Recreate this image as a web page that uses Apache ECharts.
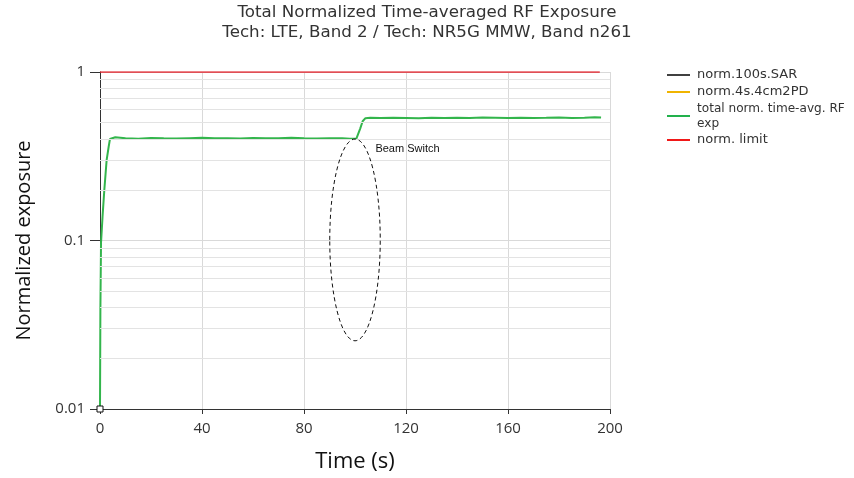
<!DOCTYPE html>
<html><head><meta charset="utf-8">
<script src="https://cdn.jsdelivr.net/npm/echarts@6/dist/echarts.min.js"></script>
<style>html,body{margin:0;padding:0;background:#fff}#c{width:854px;height:478px}</style>
</head><body><div id="c"></div><script>
// ---- data ----
const titleLines = ['Total Normalized Time-averaged RF Exposure', 'Tech: LTE, Band 2 / Tech: NR5G MMW, Band n261'];
const xAxisTitle = 'Time (s)';
const yAxisTitle = 'Normalized exposure';
const timeTicks = [0, 40, 80, 120, 160, 200];
const yTicks = [0.01, 0.1, 1];
const minorGridValues = [0.02, 0.03, 0.04, 0.05, 0.06, 0.07, 0.08, 0.09, 0.2, 0.3, 0.4, 0.5, 0.6, 0.7, 0.8, 0.9];
const seriesNames = ['norm.100s.SAR', 'norm.4s.4cm2PD', 'total norm. time-avg. RF exp', 'norm. limit'];

const sarTime = [0];
const sarValue = [0.01];
const pdTime = [];      // not visible on the log scale
const pdValue = [];
const totalTime = [0, 0.15, 0.4, 1.0, 1.7, 2.6, 3.4, 3.9, 4.5, 6, 10, 15, 20, 25, 30, 35, 40, 45, 50, 55, 60, 65, 70, 75, 80, 85, 90, 95, 98, 100.5, 102, 103, 104.1, 106, 110, 115, 120, 125, 130, 135, 140, 145, 150, 155, 160, 165, 170, 175, 180, 185, 190, 194, 196.5];
const totalValue = [0.0101, 0.039, 0.097, 0.139, 0.20, 0.30, 0.36, 0.40, 0.405, 0.41, 0.405, 0.402, 0.406, 0.404, 0.403, 0.405, 0.407, 0.404, 0.405, 0.403, 0.406, 0.404, 0.405, 0.407, 0.404, 0.403, 0.405, 0.404, 0.402, 0.401, 0.46, 0.51, 0.532, 0.535, 0.533, 0.536, 0.534, 0.532, 0.535, 0.533, 0.536, 0.534, 0.537, 0.535, 0.533, 0.536, 0.534, 0.535, 0.537, 0.534, 0.536, 0.538, 0.537];
const limitTime = [0, 196];
const limitValue = [1, 1];

// annotation (data units)
const annotationText = 'Beam Switch';
const annotationTextT = 108;
const annotationTextV = 0.349;
const ellipseT = 100;
const ellipseHalfT = 9.9;
const ellipseTopV = 0.4;
const ellipseCenterV = 0.1;
const ellipseBottomV = 0.0254;

// ---- chart ----
const zip = (a, b) => a.map((v, i) => [v, b[i]]);
const chart = echarts.init(document.getElementById('c'), null, {renderer: 'canvas'});
const SANS = 'Open Sans';
const VERD = 'DejaVu Sans';

chart.setOption({
  animation: false,
  backgroundColor: '#fff',
  title: {
    text: titleLines.join('\n'),
    left: 'center', top: 3, padding: 0,
    textStyle: {fontFamily: VERD, fontSize: 16.7, fontWeight: 'normal', color: '#333', lineHeight: 20}
  },
  legend: {
    orient: 'vertical', left: 662, top: 62, itemWidth: 23, itemHeight: 2, itemGap: 1, icon: 'rect',
    data: [
      {name: seriesNames[0], itemStyle: {color: '#404040', borderWidth: 0}},
      {name: seriesNames[1]},
      {name: seriesNames[2]},
      {name: seriesNames[3]}
    ],
    formatter: n => n === seriesNames[2] ? '{s|total norm. time-avg. RF}\n{s|exp}' : n,
    textStyle: {fontFamily: VERD, fontSize: 13, color: '#333', lineHeight: 16, padding: [0, 0, 0, 2],
      rich: {s: {fontFamily: VERD, fontSize: 12.1, color: '#333', lineHeight: 15}}}
  },
  grid: {left: 100, right: 244, top: 72, bottom: 68, containLabel: false},
  xAxis: {
    type: 'value', min: timeTicks[0], max: timeTicks[timeTicks.length - 1], interval: 40,
    name: xAxisTitle, nameLocation: 'middle', nameGap: 42,
    nameTextStyle: {fontFamily: SANS, fontSize: 22, color: '#111'},
    axisLine: {show: true, onZero: false, lineStyle: {color: '#333', width: 1}},
    axisTick: {show: true, length: 5, lineStyle: {color: '#333'}},
    axisLabel: {fontFamily: SANS, fontSize: 15, color: '#333', margin: 12},
    splitLine: {show: true, lineStyle: {color: '#d9d9d9', width: 1}}
  },
  yAxis: {
    type: 'log', logBase: 10, min: yTicks[0], max: yTicks[yTicks.length - 1],
    name: yAxisTitle, nameLocation: 'middle', nameGap: 66,
    nameTextStyle: {fontFamily: SANS, fontSize: 20, color: '#111'},
    axisLine: {show: true, onZero: false, lineStyle: {color: '#333', width: 1}},
    axisTick: {show: true, length: 10, lineStyle: {color: '#333'}},
    axisLabel: {fontFamily: SANS, fontSize: 15, color: '#333', margin: 15,
      formatter: v => String(+v.toPrecision(3))},
    splitLine: {show: true, lineStyle: {color: '#d9d9d9', width: 1}}
  },
  series: [
    {
      name: 'minor-grid', type: 'line', data: [], silent: true, z: 0,
      markLine: {silent: true, symbol: 'none', animation: false, label: {show: false},
        lineStyle: {color: '#e3e3e3', width: 1, type: 'solid'},
        data: minorGridValues.map(v => ({yAxis: v}))}
    },
    {
      name: seriesNames[3], type: 'line', data: zip(limitTime, limitValue), showSymbol: false,
      lineStyle: {color: '#e0202a', width: 1.3}, itemStyle: {color: '#f01818'}, z: 3
    },
    {
      name: seriesNames[1], type: 'line', data: zip(pdTime, pdValue), showSymbol: false,
      lineStyle: {color: '#f0b400', width: 2}, itemStyle: {color: '#f0b400'}
    },
    {
      name: seriesNames[2], type: 'line', data: zip(totalTime, totalValue), showSymbol: false,
      lineStyle: {color: '#33b54c', width: 2}, itemStyle: {color: '#22b14c'}, z: 4
    },
    {
      name: seriesNames[0], type: 'line', data: zip(sarTime, sarValue), clip: false,
      symbol: 'rect', symbolSize: 6, showSymbol: true,
      lineStyle: {color: '#404040', width: 2},
      itemStyle: {color: '#fff', borderColor: '#111', borderWidth: 1}, z: 6
    }
  ]
});

function drawAnnotation() {
  const c = chart.convertToPixel({gridIndex: 0}, [ellipseT, ellipseCenterV]);
  const top = chart.convertToPixel({gridIndex: 0}, [ellipseT, ellipseTopV]);
  const bot = chart.convertToPixel({gridIndex: 0}, [ellipseT, ellipseBottomV]);
  const side = chart.convertToPixel({gridIndex: 0}, [ellipseT + ellipseHalfT, ellipseCenterV]);
  const txt = chart.convertToPixel({gridIndex: 0}, [annotationTextT, annotationTextV]);
  const cy = (top[1] + bot[1]) / 2;
  chart.setOption({
    graphic: [
      {type: 'ellipse', shape: {cx: c[0], cy: cy, rx: side[0] - c[0], ry: (bot[1] - top[1]) / 2},
        style: {fill: 'none', stroke: '#111', lineWidth: 1, lineDash: [4, 3]}, z: 10, silent: true},
      {type: 'text', x: txt[0], y: txt[1],
        style: {text: annotationText, fill: '#111', font: '11px "Liberation Sans", Arial', verticalAlign: 'middle', align: 'left'},
        z: 10, silent: true}
    ]
  });
}
drawAnnotation();
</script></body></html>
